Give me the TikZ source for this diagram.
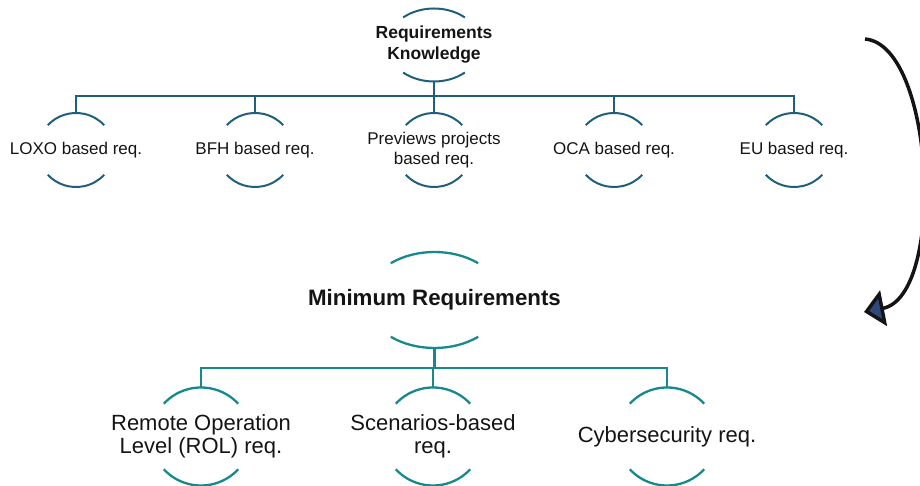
\documentclass[tikz,border=0pt]{standalone}
\usepackage{fontspec}
\setmainfont{Liberation Sans}
\usepackage{tikz}
\usetikzlibrary{arrows.meta}
\definecolor{ReqInk}{HTML}{141414}
\definecolor{ReqBlue}{HTML}{1F5F7B}
\definecolor{ReqTeal}{HTML}{17898C}
\definecolor{ReqNavy}{HTML}{2E4A7D}

% two arcs round a node: name, x radius, y radius, half gap angle, style
\newcommand{\ringarcs}[5]{%
  \draw[#5] ([shift={(180-#4:#2pt and #3pt)}]#1.center) arc[start angle=180-#4, end angle=#4, x radius=#2pt, y radius=#3pt];
  \draw[#5] ([shift={(180+#4:#2pt and #3pt)}]#1.center) arc[start angle=180+#4, end angle=360-#4, x radius=#2pt, y radius=#3pt];
  \coordinate (#1-t) at ([yshift=#3pt]#1.center);
  \coordinate (#1-b) at ([yshift=-#3pt]#1.center);
}

\begin{document}
\begin{tikzpicture}[x=1pt, y=1pt,
    toparc/.style={ReqBlue, line width=2pt},
    botarc/.style={ReqTeal, line width=2.3pt},
    topleaf/.style={inner sep=0pt, align=center, text=ReqInk, font=\fontsize{17}{20.5}\selectfont},
    botleaf/.style={inner sep=0pt, align=center, text=ReqInk, font=\fontsize{22}{23.5}\selectfont}]
  \useasboundingbox (0,0) rectangle (920,486);

  % Knowledge tree
  \node[topleaf, font=\fontsize{17.5}{21}\selectfont\bfseries] (rk) at (434,441) {Requirements\\Knowledge};
  \node[topleaf] (loxo) at (76,336) {LOXO based req.};
  \node[topleaf] (bfh) at (255,336) {BFH based req.};
  \node[topleaf] (pre) at (434,336) {Previews projects\\based req.};
  \node[topleaf] (oca) at (614,336) {OCA based req.};
  \node[topleaf] (eu) at (794,336) {EU based req.};

  \ringarcs{rk}{47}{36.5}{49}{toparc}
  \foreach \n in {loxo,bfh,pre,oca,eu}
    \ringarcs{\n}{38}{37}{42}{toparc};
  \foreach \n in {loxo,bfh,pre,oca,eu}
    \draw[toparc] (rk-b) -- ++(0,-15) -| (\n-t);

  % Minimum tree
  \node[botleaf, font=\fontsize{22.3}{24}\selectfont\bfseries] (mr) at (434.5,186) {Minimum Requirements};
  \node[botleaf] (rol) at (201,49.5) {Remote Operation\\Level (ROL) req.};
  \node[botleaf] (scn) at (433,49.5) {Scenarios-based\\req.};
  \node[botleaf] (cyb) at (667,49.5) {Cybersecurity req.};

  \ringarcs{mr}{68}{48}{50}{botarc}
  \foreach \n in {rol,scn,cyb}
    \ringarcs{\n}{50}{49}{42}{botarc};
  \foreach \n in {rol,scn,cyb}
    \draw[botarc] (mr-b) -- ++(0,-20) -| (\n-t);

  % Curved arrow
  \coordinate (cyc-s) at (865,447);
  \coordinate (cyc-e) at (864,174);
  \draw[ReqInk, line width=3.5pt, -{Triangle[length=20pt, width=36pt, fill=ReqNavy, line join=miter]}]
    (cyc-s) .. controls (935,441) and (946,190) .. (cyc-e);
\end{tikzpicture}
\end{document}
